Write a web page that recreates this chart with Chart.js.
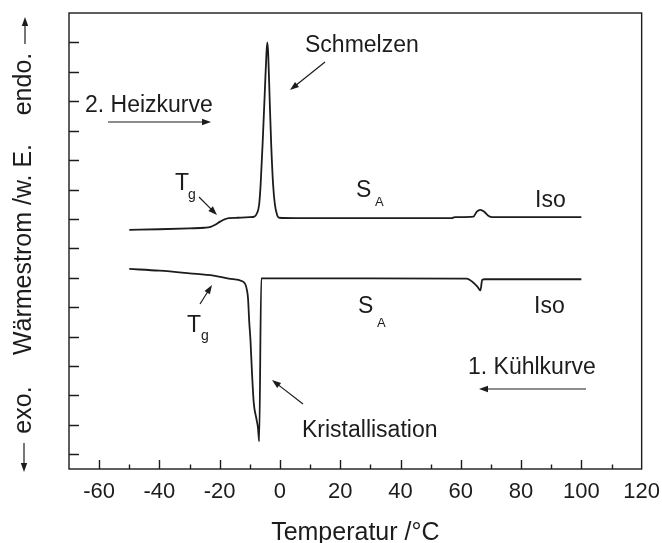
<!DOCTYPE html>
<html lang="de">
<head>
  <meta charset="UTF-8" />
  <title>DSC Heiz- und Kühlkurve</title>
  <script src="https://cdn.jsdelivr.net/npm/chart.js"></script>
  <style>
    html, body {
      margin: 0;
      padding: 0;
      background: #ffffff;
    }
    #wrap {
      width: 662px;
      height: 543px;
      position: relative;
    }
  </style>
</head>
<body>
  <div id="wrap"><canvas id="dsc"></canvas></div>

  <script>
    // 2. Heizkurve (obere Kurve)
    const heatT = [-50, -40, -30, -25, -23, -21.5, -20, -18.5, -17, -14, -10, -8.5, -7.6, -6.9, -6.4, -5.7, -5.0, -4.5, -4.2, -3.9, -3.4, -2.9, -2.3, -1.7, -1.0, -0.3, 5, 30, 57, 58, 64.2, 65.3, 66.5, 67.7, 69, 70.5, 75, 100];
    const heatW = [7.63, 7.65, 7.68, 7.70, 7.73, 7.80, 7.90, 7.98, 8.03, 8.04, 8.06, 8.08, 8.20, 8.50, 9.20, 10.7, 12.4, 13.6, 14.0, 13.6, 12.0, 10.5, 9.2, 8.5, 8.15, 8.04, 8.03, 8.03, 8.03, 8.06, 8.08, 8.25, 8.31, 8.25, 8.12, 8.06, 8.06, 8.06];

    // 1. Kühlkurve (untere Kurve)
    const coolT = [-50, -40, -30, -22, -17, -12.5, -11.5, -11, -10.6, -10.2, -9.8, -9.3, -8.7, -7.8, -7.3, -6.9, -6.2, -5, 20, 62, 64, 65.5, 66.5, 67.1, 68, 100];
    const coolW = [6.30, 6.24, 6.15, 6.07, 5.97, 5.88, 5.78, 5.60, 5.30, 4.50, 3.90, 2.80, 1.75, 1.20, 0.90, 0.44, 5.98, 5.98, 5.98, 5.97, 5.85, 5.70, 5.57, 5.93, 5.95, 5.95];

    // Achsen
    const xTicks = [-60, -40, -20, 0, 20, 40, 60, 80, 100, 120];
    const xMinor = [-50, -30, -10, 10, 30, 50, 70, 90, 110];
    const yTicks = [0, 1, 2, 3, 4, 5, 6, 7, 8, 9, 10, 11, 12, 13, 14];

    const FONT = "'Liberation Sans', Arial, sans-serif";
    const INK = '#1c1c1c';

    function toPoints(xs, ys) {
      return xs.map((x, i) => ({ x: x, y: ys[i] }));
    }

    function arrow(ctx, x1, y1, x2, y2) {
      const a = Math.atan2(y2 - y1, x2 - x1);
      const len = 9, half = 3.2;
      ctx.beginPath();
      ctx.moveTo(x1, y1);
      ctx.lineTo(x2 - Math.cos(a) * (len - 1), y2 - Math.sin(a) * (len - 1));
      ctx.stroke();
      ctx.beginPath();
      ctx.moveTo(x2, y2);
      ctx.lineTo(x2 - Math.cos(a) * len - Math.sin(a) * half, y2 - Math.sin(a) * len + Math.cos(a) * half);
      ctx.lineTo(x2 - Math.cos(a) * len + Math.sin(a) * half, y2 - Math.sin(a) * len - Math.cos(a) * half);
      ctx.closePath();
      ctx.fill();
    }

    function label(ctx, txt, x, y, size) {
      ctx.font = size + 'px ' + FONT;
      ctx.textAlign = 'left';
      ctx.textBaseline = 'alphabetic';
      ctx.fillText(txt, x, y);
    }

    // Rahmen, nach innen zeigende Ticks, Beschriftungen
    const decor = {
      id: 'decor',
      afterDraw(chart) {
        const ctx = chart.ctx;
        const a = chart.chartArea;
        const xs = chart.scales.x, ys = chart.scales.y;
        ctx.save();
        ctx.strokeStyle = INK;
        ctx.fillStyle = INK;
        ctx.lineWidth = 1.4;
        ctx.strokeRect(a.left, a.top, a.right - a.left, a.bottom - a.top);

        ctx.beginPath();
        xTicks.forEach(v => {
          const px = Math.round(xs.getPixelForValue(v)) + 0.5;
          if (px > a.right - 2) return;
          ctx.moveTo(px, a.bottom);
          ctx.lineTo(px, a.bottom - 9);
        });
        xMinor.forEach(v => {
          const px = Math.round(xs.getPixelForValue(v)) + 0.5;
          ctx.moveTo(px, a.bottom);
          ctx.lineTo(px, a.bottom - 4.5);
        });
        yTicks.forEach(v => {
          const py = Math.round(ys.getPixelForValue(v)) + 0.5;
          ctx.moveTo(a.left, py);
          ctx.lineTo(a.left + 10, py);
        });
        ctx.stroke();

        // Annotationen
        ctx.lineWidth = 1.2;
        label(ctx, 'Schmelzen', 305, 52, 23);
        arrow(ctx, 325, 62, 290, 90);

        label(ctx, '2. Heizkurve', 85, 111.5, 23);
        arrow(ctx, 108, 122, 211, 122);

        label(ctx, 'T', 175, 190, 23);
        label(ctx, 'g', 188, 199, 14);
        arrow(ctx, 199, 197, 217, 215);

        label(ctx, 'S', 356, 197, 23);
        label(ctx, 'A', 375, 206, 13);
        label(ctx, 'Iso', 535, 207, 23);

        label(ctx, 'T', 187, 332, 23);
        label(ctx, 'g', 201, 339.5, 14);
        arrow(ctx, 200, 304, 212, 285);

        label(ctx, 'S', 358, 313, 23);
        label(ctx, 'A', 377, 327, 13);
        label(ctx, 'Iso', 534, 313, 23);

        label(ctx, '1. Kühlkurve', 468, 374, 23);
        arrow(ctx, 586, 389, 479, 389);

        label(ctx, 'Kristallisation', 302, 437, 23);
        arrow(ctx, 303, 404, 272, 380);

        // Y-Achsentitel (gedreht)
        ctx.font = '25px ' + FONT;
        ctx.textAlign = 'center';
        ctx.textBaseline = 'middle';
        [['endo.', 84], ['Wärmestrom /w. E.', 249.5], ['exo.', 410]].forEach(([t, y]) => {
          ctx.save();
          ctx.translate(24, y);
          ctx.rotate(-Math.PI / 2);
          ctx.fillText(t, 0, 0);
          ctx.restore();
        });
        arrow(ctx, 25, 44, 25, 17);
        arrow(ctx, 24, 443, 24, 472);
        ctx.restore();
      }
    };

    new Chart(document.getElementById('dsc').getContext('2d'), {
      type: 'line',
      data: {
        datasets: [
          { label: '2. Heizkurve', data: toPoints(heatT, heatW) },
          { label: '1. Kühlkurve', data: toPoints(coolT, coolW) }
        ]
      },
      options: {
        responsive: true,
        maintainAspectRatio: false,
        animation: false,
        events: [],
        layout: { padding: { left: 0, top: 13, right: 20, bottom: 0 } },
        elements: {
          line: { borderColor: INK, borderWidth: 1.8, cubicInterpolationMode: 'monotone', fill: false },
          point: { radius: 0 }
        },
        plugins: {
          legend: { display: false },
          tooltip: { enabled: false }
        },
        scales: {
          x: {
            type: 'linear',
            min: -70,
            max: 120,
            afterBuildTicks: s => { s.ticks = xTicks.map(v => ({ value: v })); },
            afterFit: s => { s.height = 74; },
            grid: { display: false },
            border: { display: false },
            ticks: {
              color: INK,
              font: { family: FONT, size: 22 },
              padding: 2,
              maxRotation: 0,
              autoSkip: false
            },
            title: {
              display: true,
              text: 'Temperatur /°C',
              color: INK,
              font: { family: FONT, size: 25 },
              padding: { top: 0, bottom: -5 }
            }
          },
          y: {
            type: 'linear',
            min: -0.5,
            max: 15,
            afterFit: s => { s.width = 69; },
            grid: { display: false },
            border: { display: false },
            ticks: { display: false }
          }
        }
      },
      plugins: [decor]
    });
  </script>
</body>
</html>
